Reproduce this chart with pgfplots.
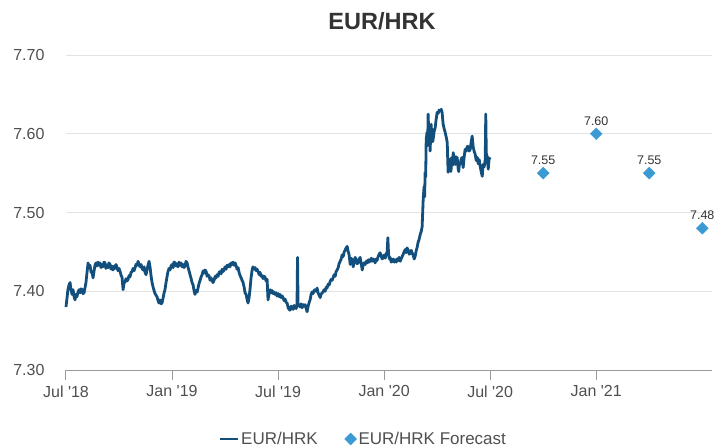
\documentclass[border=0pt]{standalone}
\usepackage{pgfplots}
\pgfplotsset{compat=1.18}
\usepackage{fontspec}
\setmainfont{Liberation Sans}

\definecolor{fxline}{HTML}{134F7C}
\definecolor{fxfcst}{HTML}{3B9AD3}
\definecolor{gridgray}{HTML}{E3E3E3}
\definecolor{axisgray}{HTML}{9A9A9A}
\definecolor{labelgray}{HTML}{4F4F4F}
\definecolor{titlegray}{HTML}{333333}

% daily EUR/HRK fixing; x = months since 1 July 2018
\pgfplotstableread[row sep=\\]{
x y \\
0.00 7.380 \\ 0.06 7.392 \\ 0.11 7.402 \\ 0.17 7.408 \\ 0.23 7.411 \\ 0.28 7.403 \\
0.34 7.396 \\ 0.40 7.402 \\ 0.45 7.394 \\ 0.51 7.389 \\ 0.57 7.396 \\ 0.62 7.393 \\
0.68 7.399 \\ 0.74 7.402 \\ 0.80 7.398 \\ 0.85 7.403 \\ 0.91 7.402 \\ 0.96 7.397 \\
1.02 7.398 \\ 1.08 7.405 \\ 1.13 7.411 \\ 1.19 7.424 \\ 1.25 7.436 \\ 1.30 7.430 \\
1.36 7.433 \\ 1.42 7.424 \\ 1.47 7.425 \\ 1.53 7.417 \\ 1.59 7.426 \\ 1.64 7.433 \\
1.70 7.436 \\ 1.76 7.432 \\ 1.81 7.437 \\ 1.87 7.433 \\ 1.92 7.436 \\ 1.98 7.430 \\
2.04 7.434 \\ 2.09 7.431 \\ 2.15 7.437 \\ 2.21 7.436 \\ 2.26 7.429 \\ 2.32 7.433 \\
2.38 7.430 \\ 2.43 7.436 \\ 2.49 7.434 \\ 2.55 7.428 \\ 2.60 7.432 \\ 2.66 7.427 \\
2.72 7.432 \\ 2.77 7.429 \\ 2.83 7.434 \\ 2.89 7.430 \\ 2.94 7.426 \\ 3.00 7.429 \\
3.06 7.425 \\ 3.12 7.420 \\ 3.17 7.418 \\ 3.23 7.402 \\ 3.28 7.410 \\ 3.34 7.412 \\
3.40 7.416 \\ 3.45 7.413 \\ 3.51 7.415 \\ 3.57 7.420 \\ 3.62 7.418 \\ 3.68 7.424 \\
3.74 7.425 \\ 3.79 7.429 \\ 3.85 7.426 \\ 3.91 7.430 \\ 3.96 7.434 \\ 4.02 7.433 \\
4.08 7.438 \\ 4.13 7.434 \\ 4.19 7.431 \\ 4.25 7.434 \\ 4.30 7.429 \\ 4.36 7.427 \\
4.42 7.431 \\ 4.47 7.424 \\ 4.53 7.421 \\ 4.59 7.428 \\ 4.64 7.433 \\ 4.70 7.438 \\
4.76 7.430 \\ 4.81 7.420 \\ 4.87 7.411 \\ 4.92 7.406 \\ 4.98 7.401 \\ 5.04 7.397 \\
5.09 7.395 \\ 5.15 7.393 \\ 5.21 7.388 \\ 5.26 7.385 \\ 5.32 7.389 \\ 5.38 7.384 \\
5.43 7.385 \\ 5.49 7.391 \\ 5.55 7.398 \\ 5.60 7.402 \\ 5.66 7.411 \\ 5.72 7.419 \\
5.77 7.425 \\ 5.83 7.429 \\ 5.89 7.427 \\ 5.94 7.432 \\ 6.00 7.434 \\ 6.06 7.430 \\
6.11 7.437 \\ 6.17 7.436 \\ 6.23 7.432 \\ 6.28 7.435 \\ 6.34 7.431 \\ 6.40 7.437 \\
6.45 7.433 \\ 6.51 7.436 \\ 6.57 7.431 \\ 6.62 7.434 \\ 6.68 7.430 \\ 6.74 7.433 \\
6.79 7.438 \\ 6.85 7.436 \\ 6.91 7.430 \\ 6.96 7.426 \\ 7.02 7.421 \\ 7.08 7.416 \\
7.13 7.411 \\ 7.19 7.408 \\ 7.25 7.400 \\ 7.30 7.396 \\ 7.36 7.401 \\ 7.42 7.399 \\
7.47 7.404 \\ 7.53 7.410 \\ 7.59 7.414 \\ 7.64 7.418 \\ 7.70 7.421 \\ 7.76 7.426 \\
7.81 7.423 \\ 7.87 7.427 \\ 7.93 7.425 \\ 7.98 7.419 \\ 8.04 7.421 \\ 8.10 7.419 \\
8.15 7.414 \\ 8.21 7.417 \\ 8.27 7.413 \\ 8.32 7.411 \\ 8.38 7.414 \\ 8.44 7.419 \\
8.49 7.417 \\ 8.55 7.421 \\ 8.61 7.419 \\ 8.66 7.424 \\ 8.72 7.425 \\ 8.78 7.422 \\
8.83 7.428 \\ 8.89 7.425 \\ 8.94 7.427 \\ 9.00 7.431 \\ 9.06 7.428 \\ 9.11 7.433 \\
9.17 7.431 \\ 9.23 7.434 \\ 9.28 7.431 \\ 9.34 7.436 \\ 9.40 7.434 \\ 9.45 7.437 \\
9.51 7.433 \\ 9.57 7.436 \\ 9.62 7.433 \\ 9.68 7.428 \\ 9.74 7.430 \\ 9.79 7.424 \\
9.85 7.420 \\ 9.91 7.417 \\ 9.96 7.414 \\ 10.02 7.411 \\ 10.08 7.405 \\ 10.13 7.398 \\
10.19 7.396 \\ 10.25 7.389 \\ 10.30 7.385 \\ 10.36 7.392 \\ 10.41 7.402 \\ 10.47 7.417 \\
10.53 7.427 \\ 10.58 7.431 \\ 10.64 7.428 \\ 10.70 7.430 \\ 10.76 7.426 \\ 10.81 7.428 \\
10.87 7.425 \\ 10.93 7.421 \\ 10.98 7.424 \\ 11.04 7.419 \\ 11.09 7.420 \\ 11.15 7.416 \\
11.21 7.419 \\ 11.26 7.418 \\ 11.32 7.413 \\ 11.38 7.415 \\ 11.43 7.389 \\ 11.49 7.397 \\
11.55 7.402 \\ 11.60 7.398 \\ 11.66 7.401 \\ 11.72 7.397 \\ 11.77 7.399 \\ 11.83 7.396 \\
11.89 7.398 \\ 11.94 7.394 \\ 12.00 7.397 \\ 12.06 7.393 \\ 12.11 7.396 \\ 12.17 7.392 \\
12.23 7.394 \\ 12.28 7.392 \\ 12.34 7.388 \\ 12.40 7.390 \\ 12.45 7.386 \\ 12.51 7.385 \\
12.57 7.379 \\ 12.62 7.377 \\ 12.68 7.376 \\ 12.74 7.381 \\ 12.79 7.380 \\ 12.85 7.377 \\
12.91 7.382 \\ 12.96 7.380 \\ 13.02 7.378 \\ 13.07 7.382 \\ 13.10 7.443 \\ 13.13 7.383 \\
13.19 7.382 \\ 13.25 7.380 \\ 13.30 7.384 \\ 13.36 7.379 \\ 13.42 7.383 \\ 13.47 7.381 \\
13.53 7.383 \\ 13.59 7.378 \\ 13.64 7.374 \\ 13.70 7.381 \\ 13.76 7.386 \\ 13.81 7.389 \\
13.87 7.396 \\ 13.92 7.399 \\ 13.98 7.397 \\ 14.04 7.401 \\ 14.09 7.402 \\ 14.15 7.400 \\
14.21 7.404 \\ 14.26 7.398 \\ 14.32 7.395 \\ 14.38 7.392 \\ 14.43 7.396 \\ 14.49 7.398 \\
14.55 7.399 \\ 14.60 7.402 \\ 14.66 7.400 \\ 14.72 7.405 \\ 14.77 7.404 \\ 14.83 7.409 \\
14.89 7.408 \\ 14.94 7.412 \\ 15.00 7.415 \\ 15.06 7.414 \\ 15.11 7.417 \\ 15.17 7.421 \\
15.23 7.419 \\ 15.28 7.425 \\ 15.34 7.427 \\ 15.40 7.430 \\ 15.45 7.435 \\ 15.51 7.438 \\
15.57 7.441 \\ 15.62 7.446 \\ 15.68 7.444 \\ 15.74 7.450 \\ 15.79 7.452 \\ 15.85 7.455 \\
15.91 7.457 \\ 15.96 7.451 \\ 16.02 7.446 \\ 16.08 7.434 \\ 16.13 7.442 \\ 16.19 7.440 \\
16.25 7.431 \\ 16.30 7.437 \\ 16.36 7.443 \\ 16.42 7.440 \\ 16.47 7.435 \\ 16.53 7.436 \\
16.59 7.441 \\ 16.64 7.443 \\ 16.70 7.436 \\ 16.76 7.427 \\ 16.81 7.433 \\ 16.87 7.436 \\
16.93 7.434 \\ 16.98 7.438 \\ 17.04 7.436 \\ 17.10 7.440 \\ 17.15 7.437 \\ 17.21 7.439 \\
17.27 7.442 \\ 17.32 7.438 \\ 17.38 7.441 \\ 17.43 7.440 \\ 17.49 7.436 \\ 17.55 7.441 \\
17.60 7.439 \\ 17.66 7.444 \\ 17.72 7.447 \\ 17.77 7.449 \\ 17.83 7.445 \\ 17.89 7.441 \\
17.94 7.443 \\ 18.00 7.446 \\ 18.06 7.442 \\ 18.11 7.447 \\ 18.17 7.450 \\ 18.21 7.468 \\
18.25 7.447 \\ 18.30 7.441 \\ 18.34 7.443 \\ 18.40 7.437 \\ 18.45 7.438 \\ 18.51 7.441 \\
18.57 7.437 \\ 18.62 7.440 \\ 18.68 7.437 \\ 18.74 7.441 \\ 18.79 7.439 \\ 18.85 7.443 \\
18.91 7.438 \\ 18.96 7.441 \\ 19.02 7.444 \\ 19.08 7.447 \\ 19.13 7.450 \\ 19.19 7.453 \\
19.25 7.449 \\ 19.30 7.455 \\ 19.36 7.452 \\ 19.42 7.447 \\ 19.47 7.448 \\ 19.53 7.452 \\
19.58 7.449 \\ 19.64 7.446 \\ 19.70 7.441 \\ 19.75 7.444 \\ 19.81 7.451 \\ 19.87 7.456 \\
19.92 7.462 \\ 19.98 7.466 \\ 20.04 7.472 \\ 20.10 7.476 \\ 20.15 7.482 \\ 20.21 7.517 \\
20.26 7.533 \\ 20.29 7.520 \\ 20.32 7.551 \\ 20.35 7.545 \\ 20.38 7.593 \\ 20.43 7.602 \\
20.46 7.585 \\ 20.49 7.625 \\ 20.52 7.600 \\ 20.55 7.593 \\ 20.58 7.605 \\ 20.60 7.578 \\
20.63 7.595 \\ 20.66 7.612 \\ 20.69 7.598 \\ 20.72 7.606 \\ 20.75 7.590 \\ 20.77 7.593 \\
20.83 7.603 \\ 20.89 7.608 \\ 20.94 7.618 \\ 21.00 7.627 \\ 21.06 7.626 \\ 21.11 7.630 \\
21.17 7.629 \\ 21.23 7.631 \\ 21.28 7.627 \\ 21.34 7.612 \\ 21.40 7.606 \\ 21.45 7.602 \\
21.51 7.596 \\ 21.57 7.589 \\ 21.60 7.565 \\ 21.62 7.551 \\ 21.66 7.563 \\ 21.70 7.553 \\
21.74 7.568 \\ 21.77 7.552 \\ 21.79 7.555 \\ 21.83 7.570 \\ 21.87 7.560 \\ 21.91 7.576 \\
21.96 7.565 \\ 22.02 7.561 \\ 22.06 7.571 \\ 22.10 7.565 \\ 22.13 7.570 \\ 22.19 7.555 \\
22.22 7.552 \\ 22.26 7.563 \\ 22.30 7.561 \\ 22.36 7.568 \\ 22.42 7.570 \\ 22.47 7.557 \\
22.53 7.571 \\ 22.58 7.580 \\ 22.64 7.578 \\ 22.70 7.584 \\ 22.75 7.584 \\ 22.81 7.578 \\
22.87 7.580 \\ 22.92 7.589 \\ 22.98 7.597 \\ 23.04 7.583 \\ 23.09 7.578 \\ 23.15 7.574 \\
23.21 7.566 \\ 23.27 7.570 \\ 23.32 7.562 \\ 23.38 7.567 \\ 23.43 7.559 \\ 23.49 7.552 \\
23.55 7.546 \\ 23.60 7.561 \\ 23.66 7.558 \\ 23.72 7.567 \\ 23.75 7.625 \\ 23.78 7.575 \\
23.83 7.571 \\ 23.89 7.555 \\ 23.94 7.568 \\ 24.00 7.570 \\
}\spot

% quarterly forecasts
\pgfplotstableread[row sep=\\]{
x y \\
27 7.55 \\ 30 7.60 \\ 33 7.55 \\ 36 7.48 \\
}\forecast

\begin{document}
\begin{tikzpicture}
\path[use as bounding box] (-66pt,-77pt) rectangle (649pt,370pt);
\begin{axis}[
  at={(0pt,0pt)}, anchor=south west,
  scale only axis,
  width=646pt, height=315pt,
  xmin=0, xmax=36.55,
  ymin=7.3, ymax=7.7,
  axis x line*=bottom,
  axis y line*=left,
  y axis line style={draw=none},
  x axis line style={draw=axisgray, line width=1pt},
  xtick={0,6,12,18,24,30},
  xticklabels={Jul \textquotesingle18, Jan \textquotesingle19, Jul \textquotesingle19, Jan \textquotesingle20, Jul \textquotesingle20, Jan \textquotesingle21},
  xtick style={draw=axisgray, line width=1pt},
  tick align=outside,
  major tick length=10pt,
  ytick={7.3,7.4,7.5,7.6,7.7},
  ytick style={draw=none},
  y tick label style={/pgf/number format/fixed, /pgf/number format/fixed zerofill, /pgf/number format/precision=2},
  /pgf/number format/assume math mode=true,
  ymajorgrids,
  major grid style={draw=gridgray, line width=0.9pt},
  ticklabel style={font=\fontsize{16}{19}\selectfont, text=labelgray},
  xticklabel style={yshift=-2pt},
  yticklabel style={xshift=-8pt},
  legend columns=2,
  legend style={at={(0.46,-0.219)}, anchor=center, draw=none, fill=none,
    font=\fontsize{17}{19}\selectfont, text=labelgray,
    /tikz/every even column/.append style={column sep=25pt}},
  legend cell align=left,
  clip=false,
]
\addplot[fxline, line width=2.8pt, line join=round,
  legend image code/.code={\draw[fxline, line width=2.8pt] (0pt,0pt) -- (18pt,0pt);}]
  table[x=x, y=y] {\spot};
\addlegendentry{EUR/HRK}

\addplot[only marks, mark=square*, mark size=4.2pt,
  mark options={fill=fxfcst, draw=fxfcst, rotate=45},
  nodes near coords={\pgfmathprintnumber[fixed,fixed zerofill,precision=2]{\pgfplotspointmeta}},
  nodes near coords style={font=\fontsize{12.5}{15}\selectfont, text=titlegray, anchor=south, yshift=5pt},
  point meta=y,
  ]
  table[x=x, y=y] {\forecast};
\addlegendentry{EUR/HRK Forecast}
\end{axis}
\node[font=\bfseries\fontsize{23.5}{27}\selectfont, text=titlegray] at (316pt,349pt) {EUR/HRK};
\end{tikzpicture}
\end{document}
